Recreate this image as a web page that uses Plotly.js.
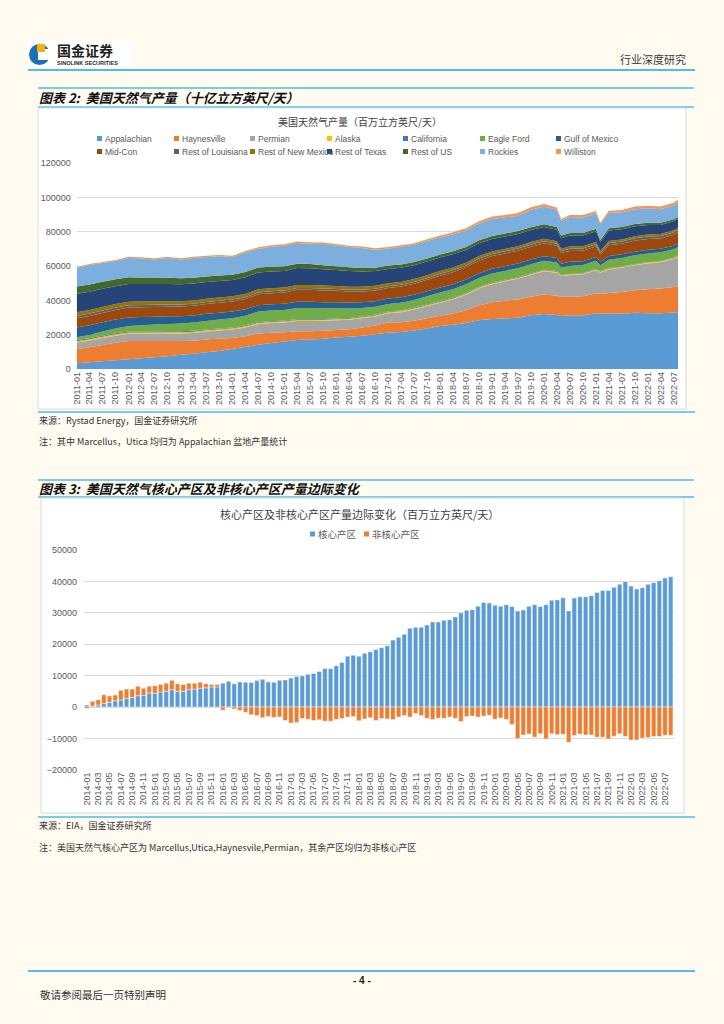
<!DOCTYPE html>
<html><head><meta charset="utf-8">
<script src="https://cdn.plot.ly/plotly-3.0.1.min.js"></script>
<style>html,body{margin:0;padding:0;background:#FFFBF0;}#page{width:724px;height:1024px;}</style>
</head><body><div id="page"></div>
<script>
// ---------- Chart 1 data (MMcf/d) ----------
const dates1 = ['2011-01-01','2011-04-01','2011-07-01','2011-10-01','2012-01-01','2012-04-01','2012-07-01','2012-10-01','2013-01-01','2013-04-01','2013-07-01','2013-10-01','2014-01-01','2014-04-01','2014-07-01','2014-10-01','2015-01-01','2015-04-01','2015-07-01','2015-10-01','2016-01-01','2016-04-01','2016-07-01','2016-10-01','2017-01-01','2017-04-01','2017-07-01','2017-10-01','2018-01-01','2018-04-01','2018-07-01','2018-10-01','2019-01-01','2019-04-01','2019-07-01','2019-10-01','2020-01-01','2020-04-01','2020-05-01','2020-07-01','2020-10-01','2021-01-01','2021-02-01','2021-04-01','2021-07-01','2021-10-01','2022-01-01','2022-04-01','2022-07-01','2022-08-01'];
const appalachian = [3500,4100,4700,5200,5800,6400,7000,7600,8500,9100,9900,10700,11900,13000,14300,15300,16200,17000,17400,17800,18500,19000,19600,20400,21400,21800,22600,23800,25200,26000,27000,28600,29300,29600,30000,31500,32200,31600,31000,31400,31300,32700,32300,32500,32400,33000,32700,32700,33100,33200];
const haynesville = [8200,8700,9500,10300,10700,10100,9500,8900,8000,7600,7500,7200,6400,6200,6500,6000,5400,5100,4800,4600,4400,4400,4700,5100,5800,5600,5700,5900,6000,6500,7400,8600,9800,10400,10700,10700,11300,11300,11200,10800,11200,11500,11500,11900,12700,13000,14000,14400,14800,15300];
const permian = [3900,3900,4000,4100,4200,4200,4300,4400,4400,4500,4600,4700,4900,5200,5500,5600,5700,6000,6000,5900,5700,5500,5400,5300,5400,5900,6500,7000,7600,8200,9000,9800,10500,11200,12000,12800,13600,13400,12000,12600,12800,13500,12500,13800,14000,14600,15000,15300,16300,17100];
const alaska = [800,800,750,750,750,750,700,700,700,700,700,700,700,700,650,650,650,650,650,600,600,600,600,600,600,600,600,600,600,600,600,600,550,550,550,550,550,550,500,500,500,500,500,500,500,500,500,500,500,500];
const california = [600,600,600,600,550,550,550,550,550,500,500,500,500,500,500,500,450,450,450,450,450,450,450,400,400,400,400,400,400,400,400,400,400,350,350,350,350,350,300,300,300,300,300,300,300,300,300,300,300,300];
const eagleFord = [1600,1900,2400,2800,3200,3600,4000,4300,4500,4800,5000,5200,5400,5600,6200,6200,6200,6500,6400,6200,5900,5500,5000,4700,4500,4500,4600,4800,4900,5000,5100,5200,5200,5200,5200,5300,5200,5000,4300,4600,4600,4700,3500,4800,4900,5000,5000,5000,5000,5000];
const gulfOfMexico = [5800,5600,5400,5200,5000,4800,4600,4400,4300,4200,4100,4000,3900,3800,3700,3700,3600,3600,3600,3500,3500,3400,3300,3200,3100,3100,3000,2900,2900,2900,2800,2800,2800,2800,2800,2700,2700,2600,2200,2400,2300,2200,2000,2200,2200,2100,2100,2000,2000,2000];
const midCon = [5400,5500,5500,5600,5800,5800,5700,5600,5600,5600,5700,5800,5800,5900,6300,6400,6600,7000,7000,6900,6700,6500,6300,6200,6200,6300,6500,6700,6900,7000,7100,7300,7400,7400,7400,7500,7400,7100,6200,6300,6000,6200,4300,6200,6100,6400,6300,6000,6400,6400];
const restOfLouisiana = [1400,1400,1400,1400,1350,1300,1300,1250,1200,1200,1200,1150,1150,1100,1100,1100,1100,1050,1050,1050,1000,1000,1000,1000,1000,1000,1000,1000,1100,1100,1100,1200,1200,1200,1300,1300,1300,1300,1200,1300,1300,1300,1000,1300,1300,1400,1400,1400,1400,1400];
const restOfNewMexico = [2100,2100,2100,2100,2050,2000,2000,2000,1950,1950,1900,1900,1900,1850,1850,1800,1800,1800,1800,1750,1750,1750,1700,1700,1700,1700,1650,1650,1600,1600,1550,1500,1500,1450,1450,1400,1400,1400,1300,1350,1350,1300,1000,1300,1250,1250,1200,1200,1200,1200];
const restOfTexas = [10700,10600,10500,10400,10300,10200,10100,10000,9900,9800,9700,9600,9500,9800,9800,9700,9600,9800,9700,9500,9300,9100,8900,8600,8400,8300,8100,8000,7900,7700,7500,7400,7300,7200,7100,7000,6900,6700,6200,6400,6300,6200,5200,6000,5900,5800,5600,5200,5200,5100];
const restOfUS = [4300,4200,4100,4000,3900,3800,3700,3600,3500,3400,3300,3200,3100,3000,2900,2800,2700,2600,2500,2400,2300,2200,2100,2000,1900,1900,1850,1850,1800,1800,1750,1750,1700,1700,1650,1650,1600,1600,1500,1500,1500,1450,1200,1400,1400,1350,1300,1300,1250,1200];
const rockies = [10900,11400,10900,10600,11300,11100,10500,11500,10850,11450,11300,11150,10250,11450,10950,11600,11950,12000,11800,12300,12050,11800,11650,10500,10000,10250,10000,10100,10000,9800,9600,9800,9900,9500,9000,10200,10300,10000,8600,9200,9000,9000,9000,8800,8500,8600,8400,8000,8000,8500];
const williston = [600,600,650,650,700,700,750,750,750,800,800,800,800,800,850,850,850,850,850,850,850,800,800,800,800,850,900,1000,1100,1200,1300,1300,1400,1400,1500,1500,1500,1400,1100,1300,1400,1400,1100,1400,1400,1500,1500,1500,1600,1600];
const seriesNames1 = ['Appalachian','Haynesville','Permian','Alaska','California','Eagle Ford','Gulf of Mexico','Mid-Con','Rest of Louisiana','Rest of New Mexico','Rest of Texas','Rest of US','Rockies','Williston'];
const seriesValues1 = [appalachian,haynesville,permian,alaska,california,eagleFord,gulfOfMexico,midCon,restOfLouisiana,restOfNewMexico,restOfTexas,restOfUS,rockies,williston];
const seriesColors1 = ['#5B9BD5','#ED7D31','#A5A5A5','#FFC000','#4472C4','#70AD47','#255E91','#9E480E','#636363','#997300','#264478','#43682B','#7CAFDD','#F1975A'];

// ---------- Chart 2 data (MMcf/d) ----------
const months2 = ['2014-01','2014-02','2014-03','2014-04','2014-05','2014-06','2014-07','2014-08','2014-09','2014-10','2014-11','2014-12',
'2015-01','2015-02','2015-03','2015-04','2015-05','2015-06','2015-07','2015-08','2015-09','2015-10','2015-11','2015-12',
'2016-01','2016-02','2016-03','2016-04','2016-05','2016-06','2016-07','2016-08','2016-09','2016-10','2016-11','2016-12',
'2017-01','2017-02','2017-03','2017-04','2017-05','2017-06','2017-07','2017-08','2017-09','2017-10','2017-11','2017-12',
'2018-01','2018-02','2018-03','2018-04','2018-05','2018-06','2018-07','2018-08','2018-09','2018-10','2018-11','2018-12',
'2019-01','2019-02','2019-03','2019-04','2019-05','2019-06','2019-07','2019-08','2019-09','2019-10','2019-11','2019-12',
'2020-01','2020-02','2020-03','2020-04','2020-05','2020-06','2020-07','2020-08','2020-09','2020-10','2020-11','2020-12',
'2021-01','2021-02','2021-03','2021-04','2021-05','2021-06','2021-07','2021-08','2021-09','2021-10','2021-11','2021-12',
'2022-01','2022-02','2022-03','2022-04','2022-05','2022-06','2022-07','2022-08'];
const coreArea = [600,300,600,1100,1500,2000,2200,2700,3000,3600,3700,4500,4400,4800,5000,5500,5000,5000,5500,5700,6000,6100,6400,6400,
7600,8200,7400,8000,7900,7800,8400,8800,8000,7900,8500,8600,9200,9700,9900,10400,10700,11300,12300,12200,13100,14200,16200,16500,
16200,17100,17600,18300,18900,19500,21300,22200,23200,25100,25400,25400,26100,27100,27100,27600,27800,28700,30000,30800,31000,32100,33300,33100,
32400,32100,32600,32000,30600,30900,32100,32600,32000,32600,34000,34100,34800,30600,34700,35100,35100,35400,36500,37100,37100,38100,39100,39900,
38500,37600,38000,39100,39600,40200,41100,41500];
const nonCoreArea = [-500,1500,1700,2800,2000,1800,3100,3000,2700,3000,2300,2100,2400,2400,2600,3000,2400,2200,2100,1900,1900,1300,800,800,
-1000,-200,-600,-1100,-1700,-2500,-2700,-3400,-3000,-3300,-3200,-4300,-5100,-4900,-3700,-3900,-4300,-4100,-4500,-4500,-4000,-3700,-3200,-3000,
-4400,-3800,-3400,-4300,-3700,-3800,-4000,-3200,-2700,-3200,-2100,-2700,-3600,-4000,-3600,-3600,-3200,-3600,-4600,-3000,-2900,-3200,-2900,-2600,
-3900,-3500,-4000,-5600,-10000,-8900,-8600,-9600,-8500,-10200,-8500,-8800,-8700,-11200,-9100,-8600,-8900,-8900,-9600,-9600,-10200,-9300,-8500,-9400,
-10500,-10500,-9900,-9700,-9400,-9400,-9000,-9000];
const tickLabels2 = ['2014-01','2014-03','2014-05','2014-07','2014-09','2014-11','2015-01','2015-03','2015-05','2015-07','2015-09','2015-11',
'2016-01','2016-03','2016-05','2016-07','2016-09','2016-11','2017-01','2017-03','2017-05','2017-07','2017-09','2017-11',
'2018-01','2018-03','2018-05','2018-07','2018-09','2018-11','2019-01','2019-03','2019-05','2019-07','2019-09','2019-11',
'2020-01','2020-03','2020-05','2020-07','2020-09','2020-11','2021-01','2021-03','2021-05','2021-07','2021-09','2021-11',
'2022-01','2022-03','2022-05','2022-07'];
const seriesNames2 = ['核心产区','非核心产区'];
const seriesColors2 = ['#5B9BD5','#ED7D31'];

// ---------- helpers (page pixels -> paper fractions) ----------
const W = 724, H = 1024;
const fx = x => x / W;
const fy = y => 1 - y / H;
const LAT = 'Liberation Sans, Noto Sans CJK SC, sans-serif';
const CJK = 'Noto Sans CJK SC, Liberation Sans, sans-serif';
const BLUE = '#4DBDEB';

const traces = [];
seriesNames1.forEach((n, k) => {
  traces.push({type:'scatter', x: dates1, y: seriesValues1[k], name: n, stackgroup:'g1', mode:'none',
    fillcolor: seriesColors1[k], xaxis:'x', yaxis:'y', hoverinfo:'skip', showlegend:false});
});
[coreArea, nonCoreArea].forEach((v, k) => {
  traces.push({type:'bar', x: months2, y: v, name: seriesNames2[k], xaxis:'x2', yaxis:'y2',
    marker:{color: seriesColors2[k], line:{color:'rgba(255,255,255,0.75)', width:0.6}}, hoverinfo:'skip', showlegend:false});
});

const shapes = [];
const annotations = [];
function hline(y, x0, x1, w) { shapes.push({type:'line', xref:'paper', yref:'paper', x0:fx(x0), x1:fx(x1), y0:fy(y), y1:fy(y), line:{color:BLUE, width:w||1.5}, layer:'below'}); }
function rect(x0, y0, x1, y1, fill, line, layer) { shapes.push({type:'rect', xref:'paper', yref:'paper', x0:fx(x0), x1:fx(x1), y0:fy(y1), y1:fy(y0), fillcolor:fill, line: line || {width:0}, layer: layer || 'below'}); }
function text(t, x, y, size, opts) {
  opts = opts || {};
  annotations.push({text:t, x:fx(x), y:fy(y), xref:'paper', yref:'paper', showarrow:false,
    xanchor: opts.xa || 'left', yanchor:'middle', font:{family: opts.fam || CJK, size:size, color: opts.color || '#333333'}});
}

// header
rect(28, 41, 131, 67, '#FFFFFF');
shapes.push({type:'circle', xref:'paper', yref:'paper', x0:fx(29), x1:fx(50), y0:fy(65), y1:fy(44), fillcolor:'#1D6FB8', line:{width:0}, layer:'above'});
rect(38, 49, 51, 60, '#FFFFFF', null, 'above');
rect(37, 44, 45, 52, '#F4B400', null, 'above');
text('<b>国金证券</b>', 55, 50, 14, {color:'#1F1F1F'});
text('<b>SINOLINK SECURITIES</b>', 55, 62.5, 5.5, {fam:LAT, color:'#1F1F1F'});
text('行业深度研究', 688, 59, 11, {xa:'right', color:'#3A3A3A'});
hline(70, 28, 695, 2);

// section 2
hline(88, 38, 694, 1.5);
text('<b><i>图表 2:  美国天然气产量（十亿立方英尺/天）</i></b>', 37, 97.5, 13, {color:'#111111'});
hline(107, 38, 694, 1.5);
rect(38, 108, 686, 409, '#FFFFFF', {color:'#D9D9D9', width:1});
text('美国天然气产量（百万立方英尺/天）', 360, 121, 10, {xa:'center', color:'#404040'});
const legCols = [97, 174, 250, 327, 403, 480, 556];
seriesNames1.forEach((n, k) => {
  const cx = legCols[k % 7], cy = k < 7 ? 138.5 : 151.5;
  rect(cx, cy - 2.5, cx + 5, cy + 2.5, seriesColors1[k], null, 'above');
  text(n, cx + 5.5, cy, 8.5, {fam:LAT, color:'#595959'});
});
hline(412, 38, 695, 1.5);
text('来源：Rystad Energy，国金证券研究所', 37, 420.5, 9, {color:'#333333'});
text('注：其中 Marcellus，Utica 均归为 Appalachian 盆地产量统计', 37, 441.5, 9, {color:'#333333'});

// section 3
hline(480, 38, 694, 1.5);
text('<b><i>图表 3:  美国天然气核心产区及非核心产区产量边际变化</i></b>', 37, 488.5, 13, {color:'#111111'});
hline(497, 38, 694, 1.5);
rect(41, 498, 684, 813, '#FFFFFF', {color:'#D9D9D9', width:1});
text('核心产区及非核心产区产量边际变化（百万立方英尺/天）', 359, 514, 11, {xa:'center', color:'#404040'});
[[310, 0], [364, 1]].forEach(([cx, k]) => {
  rect(cx, 531.5, cx + 5, 536.5, seriesColors2[k], null, 'above');
  text(seriesNames2[k], cx + 5.5, 534, 9.5, {color:'#595959'});
});
hline(817, 38, 695, 1.5);
text('来源：EIA，国金证券研究所', 37, 825.5, 9, {color:'#333333'});
text('注：美国天然气核心产区为 Marcellus,Utica,Haynesvile,Permian，其余产区均归为非核心产区', 37, 847, 9, {color:'#333333'});

// footer
hline(971, 28, 695, 2);
text('<b>- 4 -</b>', 362, 980, 10, {xa:'center', fam:LAT, color:'#222222'});
text('敬请参阅最后一页特别声明', 38, 994, 10.5, {color:'#333333'});

const tickFont = {family: LAT, size: 9, color:'#595959'};
const layout = {
  width: W, height: H, margin:{l:0, r:0, t:0, b:0}, autosize:false,
  paper_bgcolor:'#FFFBF0', plot_bgcolor:'rgba(0,0,0,0)', showlegend:false,
  barmode:'relative', bargap:0.2,
  xaxis:{domain:[fx(76.7), fx(678)], anchor:'y', type:'date', range:['2011-01-01','2022-08-01'],
    tick0:'2011-01-01', dtick:'M3', tickformat:'%Y-%m', tickangle:-90, showgrid:false, zeroline:false,
    showline:false, ticks:'', tickfont:tickFont, fixedrange:true, automargin:false},
  yaxis:{domain:[fy(369.3), fy(163.3)], anchor:'x', range:[0,120000], dtick:20000, tickformat:'d',
    gridcolor:'#D9D9D9', gridwidth:1, zeroline:false, showline:false, ticks:'', tickfont:tickFont,
    ticklabelstandoff:5, fixedrange:true, automargin:false},
  xaxis2:{domain:[fx(84), fx(673.5)], anchor:'y2', type:'category', range:[-0.5, 103.5],
    tickmode:'array', tickvals:tickLabels2, ticktext:tickLabels2, tickangle:-90, showgrid:false,
    zeroline:false, showline:false, ticks:'', tickfont:tickFont, fixedrange:true, automargin:false},
  yaxis2:{domain:[fy(769.8), fy(550)], anchor:'x2', range:[-20000, 50000], dtick:10000, tickformat:'d',
    gridcolor:'#D9D9D9', gridwidth:1, zeroline:false, showline:false, ticks:'', tickfont:tickFont,
    ticklabelstandoff:6, fixedrange:true, automargin:false},
  shapes: shapes, annotations: annotations
};
Plotly.newPlot('page', traces, layout, {staticPlot:true, displayModeBar:false});
</script>
</body></html>
